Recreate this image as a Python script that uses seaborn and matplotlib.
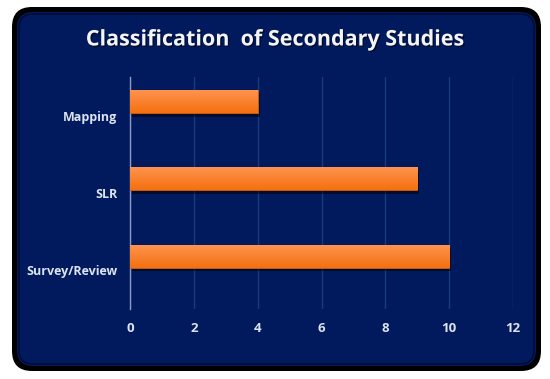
import matplotlib
matplotlib.use('Agg')
import matplotlib.pyplot as plt
import matplotlib.patheffects as pe
from matplotlib.patches import FancyBboxPatch
import numpy as np
import pandas as pd
import seaborn as sns

categories = ['Mapping', 'SLR', 'Survey/Review']
counts = [4, 9, 10]
x_ticks = [0, 2, 4, 6, 8, 10, 12]

navy = '#011a5e'
sns.set_theme(style='white')
plt.rcParams['font.family'] = ['Open Sans', 'DejaVu Sans']

fig = plt.figure(figsize=(5.5, 3.79), dpi=100)
fig.patch.set_facecolor('white')

# rounded black frame with navy panel
W, H = 550, 379
def box(x0, y0, x1, y1, r, **kw):
    p = FancyBboxPatch((x0 / W, 1 - y1 / H), (x1 - x0) / W, (y1 - y0) / H,
                       boxstyle=f'round,pad=0,rounding_size={r / W}',
                       transform=fig.transFigure, mutation_aspect=W / H, zorder=-5, **kw)
    fig.patches.append(p)

box(12, 7, 541, 371, 20, facecolor='black', edgecolor='none')
box(17, 12, 536, 366, 16, facecolor=navy, edgecolor='none')
box(19, 14, 534, 364, 14, facecolor='none', edgecolor='#000a30', linewidth=1.0)

ax = fig.add_axes([130 / W, 1 - 309 / H, (513 - 130) / W, (309 - 77) / H])
ax.set_zorder(5)
ax.set_facecolor('none')

df = pd.DataFrame({'type': categories, 'count': counts})
sns.barplot(data=df, x='count', y='type', orient='h', width=0.3,
            color='#fb7d22', saturation=1, linewidth=0, ax=ax, zorder=3)

# gradient + shadow on bars
grad = np.linspace(0, 1, 64).reshape(-1, 1)
cmap = matplotlib.colors.LinearSegmentedColormap.from_list('og', ['#ff9552', '#f4700f'])
for bar in ax.patches:
    x, y = bar.get_x(), bar.get_y()
    w, h = bar.get_width(), bar.get_height()
    bar.set_edgecolor('#d65d08')
    bar.set_linewidth(0.6)
    bar.set_path_effects([pe.SimplePatchShadow(offset=(1.5, -2.5), shadow_rgbFace='black', alpha=0.5),
                          pe.Normal()])
    im = ax.imshow(grad, cmap=cmap, aspect='auto', extent=(x, x + w, y + h, y),
                   zorder=4, interpolation='bicubic')
    im.set_clip_path(bar)

# Excel-style: bars sit in the upper part of each category band
shift = 0.184
ax.set_xlim(0, 12)
ax.set_ylim(len(categories) - 0.5 + shift, -0.5 + shift)
ax.set_yticks(np.arange(len(categories)) + shift)
ax.set_yticklabels(categories, fontweight='bold')
ax.set_xticks(x_ticks)
ax.set_xticklabels([str(t) for t in x_ticks], fontweight='bold')
ax.xaxis.grid(True, color='#163d7e', linewidth=1.0, zorder=0)
ax.yaxis.grid(False)
for s in ['top', 'right', 'bottom']:
    ax.spines[s].set_visible(False)
ax.spines['left'].set_color('#8c9bbf')
ax.spines['left'].set_linewidth(1.0)
ax.tick_params(axis='both', length=0, colors='#dde3ee')
ax.tick_params(axis='x', pad=9, labelsize=9.5)
ax.tick_params(axis='y', pad=9, labelsize=9)
ax.set_xlabel('')
ax.set_ylabel('')

fig.text(0.5, 1 - 40 / H, 'Classification  of Secondary Studies', ha='center', va='center',
         color='#f4f4f4', fontsize=15.5, fontweight='bold',
         path_effects=[pe.withSimplePatchShadow(offset=(1, -1), shadow_rgbFace='black', alpha=0.5)])

fig.savefig('out.png', dpi=100, facecolor='white')
